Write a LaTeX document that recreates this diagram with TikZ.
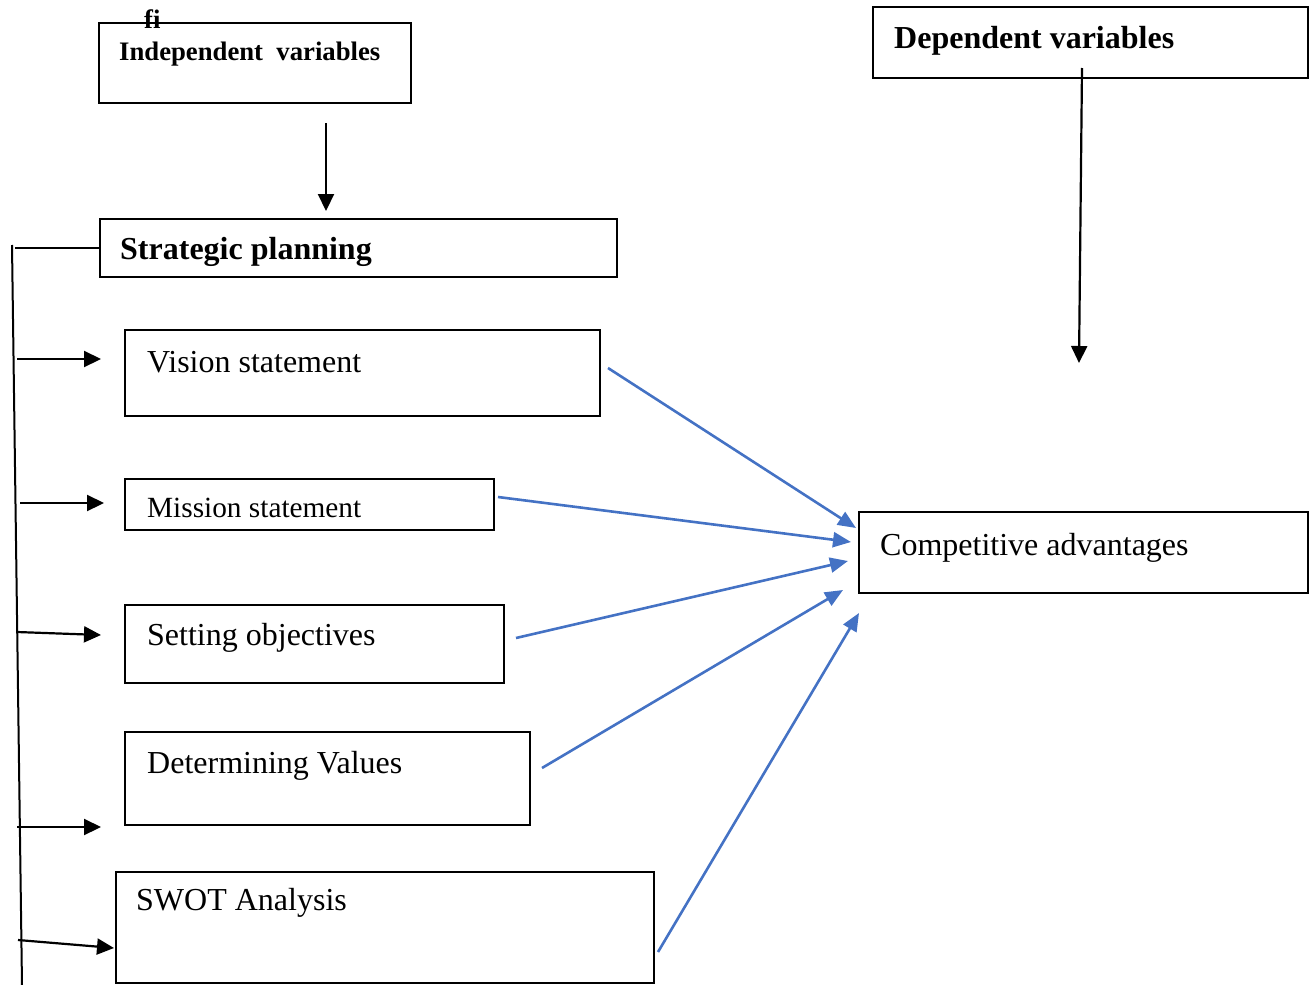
\documentclass[tikz,border=0pt]{standalone}
\usepackage{fontspec}
\setmainfont{Liberation Serif}
\usetikzlibrary{arrows.meta}
\definecolor{arrowblue}{HTML}{4472C4}
\tikzset{
  box/.style={draw=black, line width=1.9pt, rectangle, inner sep=0pt, outer sep=0pt, anchor=north west},
  lbl/.style={anchor=base west, inner sep=0pt, font=\fontsize{32}{38}\selectfont},
  lblb/.style={anchor=base west, inner sep=0pt, font=\fontsize{32}{38}\selectfont\bfseries},
  lblsmall/.style={anchor=base west, inner sep=0pt, font=\fontsize{26.7}{32}\selectfont\bfseries},
  lblmid/.style={anchor=base west, inner sep=0pt, font=\fontsize{29.3}{35}\selectfont},
  blk/.style={line width=2.2pt, -{Triangle[length=17pt,width=16pt]}},
  plain/.style={line width=2pt},
  blu/.style={draw=arrowblue, line width=2.6pt, -{Triangle[length=18pt,width=15pt]}}
}
\begin{document}
\begin{tikzpicture}[x=1pt,y=-1pt]
\useasboundingbox (0,0) rectangle (1309,985);
% boxes
\node[box, minimum width=312pt, minimum height=80pt] (indep) at (99,23) {};
\node[box, minimum width=435pt, minimum height=71pt] (dep) at (873,7) {};
\node[box, minimum width=517pt, minimum height=58pt] (strat) at (100,219) {};
\node[box, minimum width=475pt, minimum height=86pt] (vis) at (125,330) {};
\node[box, minimum width=369pt, minimum height=51pt] (mis) at (125,479) {};
\node[box, minimum width=379pt, minimum height=78pt] (obj) at (125,605) {};
\node[box, minimum width=405pt, minimum height=93pt] (val) at (125,732) {};
\node[box, minimum width=538pt, minimum height=111pt] (swot) at (116,872) {};
\node[box, minimum width=449pt, minimum height=81pt] (comp) at (859,512) {};
% texts
\node[lblsmall] (fi) at (144,28) {fi};
\node[lblsmall] (indepT) at (119,60) {Independent\ \ variables};
\node[lblb] (depT) at (894,48) {Dependent variables};
\node[lblb] (stratT) at (120,259) {Strategic planning};
\node[lbl] (visT) at (147,372) {Vision statement};
\node[lblmid] (misT) at (147,517) {Mission statement};
\node[lbl] (objT) at (147,645) {Setting objectives};
\node[lbl] (valT) at (147,773) {Determining Values};
\node[lbl] (swotT) at (136,910) {SWOT Analysis};
\node[lbl] (compT) at (880,555) {Competitive advantages};
% coordinates
\coordinate (a1s) at (326,123);
\coordinate (a1e) at (326,211);
\coordinate (a2s) at (1082,68);
\coordinate (a2e) at (1079,363);
\coordinate (vtop) at (12,245);
\coordinate (vbot) at (22,985);
\coordinate (hs) at (15,248);
\coordinate (hsE) at (100,248);
\coordinate (l1s) at (17,359);  \coordinate (l1e) at (101,359);
\coordinate (l2s) at (20,503);  \coordinate (l2e) at (104,503);
\coordinate (l3s) at (17,632);  \coordinate (l3e) at (101,635);
\coordinate (l4s) at (17,827);  \coordinate (l4e) at (101,827);
\coordinate (l5s) at (18,940);  \coordinate (l5e) at (114,948);
\coordinate (b1s) at (608,368); \coordinate (b1e) at (856,528);
\coordinate (b2s) at (498,497); \coordinate (b2e) at (851,542);
\coordinate (b3s) at (516,638); \coordinate (b3e) at (848,561);
\coordinate (b4s) at (542,768); \coordinate (b4e) at (843,590);
\coordinate (b5s) at (658,952); \coordinate (b5e) at (859,613);
% black connectors
\draw[blk] (a1s) -- (a1e);
\draw[blk] (a2s) -- (a2e);
\draw[plain] (vtop) -- (vbot);
\draw[plain] (hs) -- (hsE);
\draw[blk] (l1s) -- (l1e);
\draw[blk] (l2s) -- (l2e);
\draw[blk] (l3s) -- (l3e);
\draw[blk] (l4s) -- (l4e);
\draw[blk] (l5s) -- (l5e);
% blue connectors
\draw[blu] (b1s) -- (b1e);
\draw[blu] (b2s) -- (b2e);
\draw[blu] (b3s) -- (b3e);
\draw[blu] (b4s) -- (b4e);
\draw[blu] (b5s) -- (b5e);
\end{tikzpicture}
\end{document}
